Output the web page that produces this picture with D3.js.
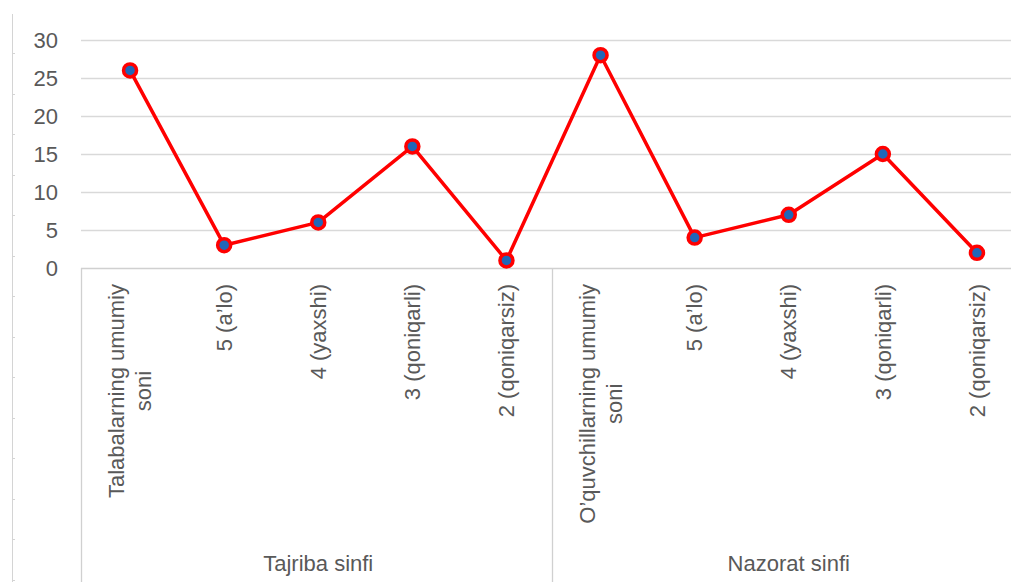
<!DOCTYPE html>
<html>
<head>
<meta charset="utf-8">
<script src="https://cdn.jsdelivr.net/npm/d3@7"></script>
<style>
  html, body { margin: 0; padding: 0; background: #fff; }
  svg { display: block; }
  text { font-family: 'Liberation Sans', Arial, sans-serif; fill: #595959; }
</style>
</head>
<body>
<div id="chart"></div>
<script>
const groups = ['Tajriba sinfi', 'Nazorat sinfi']
const categories = [
  ['Talabalarning umumiy', 'soni'], ["5 (a\u2019lo)"], ['4 (yaxshi)'], ['3 (qoniqarli)'], ['2 (qoniqarsiz)'],
  ['O\u2019quvchillarning umumiy', 'soni'], ["5 (a\u2019lo)"], ['4 (yaxshi)'], ['3 (qoniqarli)'], ['2 (qoniqarsiz)']
]
const groupOf = [0, 0, 0, 0, 0, 1, 1, 1, 1, 1]
const values = [26, 3, 6, 16, 1, 28, 4, 7, 15, 2]
const yTicks = [0, 5, 10, 15, 20, 25, 30]

const width = 1011
const height = 582
const margin = { top: 40, right: -13, left: 83, axis: 268 }
const fontSize = 22

const svg = d3.select('#chart')
  .append('svg')
  .attr('width', width)
  .attr('height', height)

// ruler-like frame on the left
const ruler = svg.append('g').attr('stroke', '#d4d4d4').attr('stroke-width', 1)
ruler.append('line').attr('x1', 12.5).attr('x2', 12.5).attr('y1', 14).attr('y2', height)
ruler.selectAll('.rt')
  .data(d3.range(53, height, 40.5))
  .enter()
  .append('line')
  .attr('x1', 12).attr('x2', 15)
  .attr('y1', d => Math.round(d) + 0.5).attr('y2', d => Math.round(d) + 0.5)

const idx = d3.range(values.length)

const x = d3.scaleBand()
  .domain(idx)
  .range([margin.left, width - margin.right])

const y = d3.scaleLinear()
  .domain([0, 30])
  .range([margin.axis, margin.top])

// gridlines
svg.append('g')
  .selectAll('line')
  .data(yTicks.slice(1))
  .enter()
  .append('line')
  .attr('x1', margin.left - 2)
  .attr('x2', width)
  .attr('y1', d => Math.round(y(d)) + 0.5)
  .attr('y2', d => Math.round(y(d)) + 0.5)
  .attr('stroke', '#d9d9d9')
  .attr('stroke-width', 1.3)

// y axis
const yAxisG = svg.append('g')
  .attr('transform', `translate(${margin.left - 25}, 0)`)
  .call(d3.axisLeft(y).tickValues(yTicks).tickSize(0).tickPadding(0))
yAxisG.select('.domain').remove()
yAxisG.selectAll('text')
  .style('font-family', "'Liberation Sans', Arial, sans-serif")
  .attr('font-size', fontSize)
  .attr('fill', '#595959')

// category axis lines
const axisColor = '#d0d0d0'
svg.append('line')
  .attr('x1', margin.left - 2).attr('x2', width)
  .attr('y1', margin.axis + 0.5).attr('y2', margin.axis + 0.5)
  .attr('stroke', axisColor).attr('stroke-width', 1.3)

const boundaries = [0, 5]
svg.append('g')
  .selectAll('line')
  .data(boundaries)
  .enter()
  .append('line')
  .attr('x1', d => Math.round(x(d)) - 1.5)
  .attr('x2', d => Math.round(x(d)) - 1.5)
  .attr('y1', margin.axis)
  .attr('y2', height)
  .attr('stroke', axisColor)
  .attr('stroke-width', 1.3)

// rotated category labels
const labelTop = margin.axis + 16
const catG = svg.append('g')
categories.forEach((lines, i) => {
  const cx = x(i) + x.bandwidth() / 2
  const lh = fontSize * 1.25
  const t = catG.append('text')
    .attr('font-size', fontSize)
    .attr('text-anchor', 'middle')
    .attr('transform', `translate(${cx}, ${labelTop}) rotate(-90)`)
  const spans = lines.map((s, k) => t.append('tspan')
    .attr('y', (k - (lines.length - 1) / 2) * lh + fontSize * 0.35)
    .text(s))
  const maxW = d3.max(spans, s => s.node().getComputedTextLength())
  spans.forEach(s => s.attr('x', -maxW / 2))
})

// group labels
svg.append('g')
  .selectAll('text')
  .data(groups)
  .enter()
  .append('text')
  .attr('font-size', fontSize)
  .attr('text-anchor', 'middle')
  .attr('x', (d, g) => {
    const members = idx.filter(i => groupOf[i] === g)
    return (x(members[0]) + x(members[members.length - 1]) + x.bandwidth()) / 2
  })
  .attr('y', 571)
  .text(d => d)

// series
const line = d3.line()
  .x(i => x(i) + x.bandwidth() / 2)
  .y(i => y(values[i]))

svg.append('path')
  .datum(idx)
  .attr('fill', 'none')
  .attr('stroke', '#ff0000')
  .attr('stroke-width', 3.5)
  .attr('stroke-linejoin', 'round')
  .attr('d', line)

svg.append('g')
  .selectAll('circle')
  .data(idx)
  .enter()
  .append('circle')
  .attr('cx', i => x(i) + x.bandwidth() / 2)
  .attr('cy', i => y(values[i]))
  .attr('r', 6.5)
  .attr('fill', '#2067b8')
  .attr('stroke', '#ff0000')
  .attr('stroke-width', 3.5)
</script>
</body>
</html>
